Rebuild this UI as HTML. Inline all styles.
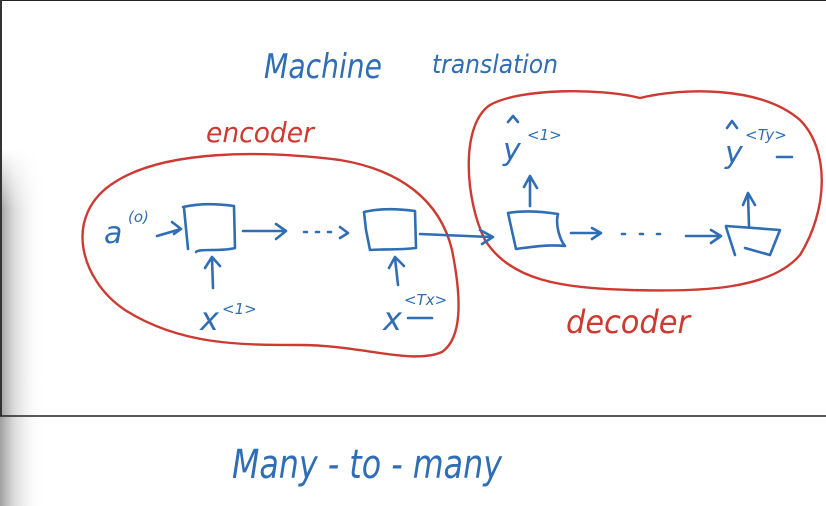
<!DOCTYPE html>
<html><head><meta charset="utf-8"><style>
html,body{margin:0;padding:0;background:#fff;}
body{width:826px;height:506px;overflow:hidden;position:relative;}
svg{position:absolute;left:0;top:0;}
.b{fill:none;stroke:#2f6db5;stroke-width:2.6;stroke-linecap:round;stroke-linejoin:round;}
.r{fill:none;stroke:#cc3a32;stroke-width:2.4;stroke-linecap:round;}
text{font-family:"DejaVu Sans","Liberation Sans",sans-serif;font-style:italic;}
.tb{fill:#2f6db5;}
.tr{fill:#cc3a32;}
</style></head><body>
<svg width="826" height="506" viewBox="0 0 826 506">
<defs>
<linearGradient id="sh" x1="0" x2="1"><stop offset="0" stop-color="#a0a0a0"/><stop offset="0.3" stop-color="#dadada"/><stop offset="1" stop-color="#fff" stop-opacity="0"/></linearGradient>
<linearGradient id="fv" x1="0" y1="0" x2="0" y2="1"><stop offset="0" stop-color="#fff" stop-opacity="1"/><stop offset="1" stop-color="#fff" stop-opacity="0"/></linearGradient>
</defs>
<rect x="0" y="150" width="45" height="356" fill="url(#sh)"/>
<rect x="0" y="149" width="45" height="60" fill="url(#fv)"/>
<line x1="0" y1="0.5" x2="826" y2="0.5" stroke="#222" stroke-width="1"/>
<line x1="1" y1="0" x2="1" y2="416" stroke="#333" stroke-width="2"/>
<line x1="0" y1="416" x2="826" y2="416" stroke="#222" stroke-width="1.5"/>

<text x="264" y="78" class="tb" font-size="34" textLength="118" lengthAdjust="spacingAndGlyphs">Machine</text>
<text x="432" y="73" class="tb" font-size="26" textLength="126" lengthAdjust="spacingAndGlyphs">translation</text>
<text x="206" y="142" class="tr" font-size="28" textLength="108" lengthAdjust="spacingAndGlyphs">encoder</text>
<text x="566" y="333" class="tr" font-size="32" textLength="124" lengthAdjust="spacingAndGlyphs">decoder</text>
<text x="232" y="478" class="tb" font-size="40" textLength="270" lengthAdjust="spacingAndGlyphs">Many - to - many</text>

<path class="r" d="M115,182 C165,150 260,150 340,160 C400,170 440,200 452,250 C462,300 462,338 442,352 C412,365 360,345 300,345 C240,345 180,345 125,310 C80,280 62,215 115,182 Z"/>
<path class="r" d="M490,105 C520,88 600,88 640,98 C680,88 760,85 800,120 C830,150 828,210 800,255 C770,290 700,292 630,290 C560,288 510,280 485,240 C465,200 460,125 490,105 Z"/>

<text x="104" y="243" class="tb" font-size="30">a</text>
<text x="128" y="222" class="tb" font-size="15">(o)</text>
<path class="b" d="M157,236 L181,229 M172,222 L181,229 L174,234"/>
<path class="b" d="M183,207 C200,203 220,204 234,206 L235,248 C220,252 200,248 196,252 M184,208 L188,249"/>
<path class="b" d="M243,231 L284,231 M276,224 L286,231 L276,239"/>
<path class="b" d="M304,232 L307,232 M316,232 L319,232 M328,232 L331,232 M340,227 L348,233 L340,238"/>
<path class="b" d="M364,212 C380,208 400,209 415,211 L416,248 C400,250 380,249 370,250 L366,230 Z"/>
<path class="b" d="M420,234 L490,237 M480,230 L493,237 L482,244"/>
<path class="b" d="M213,288 L212,258 M205,268 L212,257 L220,266"/>
<text x="200" y="330" class="tb" font-size="32">x</text>
<text x="222" y="314" class="tb" font-size="15">&lt;1&gt;</text>
<path class="b" d="M398,285 L395,258 M389,268 L395,257 L404,266"/>
<text x="383" y="330" class="tb" font-size="32">x</text>
<text x="404" y="305" class="tb" font-size="15">&lt;Tx&gt;</text>
<path class="b" d="M408,318 L432,318"/>
<path class="b" d="M508,213 C525,210 545,212 558,214 C555,225 560,240 565,246 C545,244 525,248 516,249 Z"/>
<path class="b" d="M571,233 L600,233 M592,228 L601,233 L592,239"/>
<path class="b" d="M622,234 L625,234 M640,234 L643,234 M657,234 L660,234"/>
<path class="b" d="M686,236 L719,236 M711,230 L721,236 L711,243"/>
<path class="b" d="M726,226 L780,230 L770,255 M726,227 L735,255 M745,248 L770,255"/>
<path class="b" d="M530,206 L530,178 M524,187 L530,176 L537,188"/>
<path class="b" d="M749,226 L748,195 M743,205 L748,193 L755,205"/>
<text x="503" y="160" class="tb" font-size="30">y</text>
<path class="b" d="M508,122 L513,116 L518,122"/>
<text x="527" y="140" class="tb" font-size="15">&lt;1&gt;</text>
<text x="725" y="163" class="tb" font-size="30">y</text>
<path class="b" d="M727,128 L732,121 L737,128"/>
<text x="745" y="140" class="tb" font-size="15">&lt;Ty&gt;</text>
<path class="b" d="M777,157 L792,157"/>
</svg>
</body></html>
